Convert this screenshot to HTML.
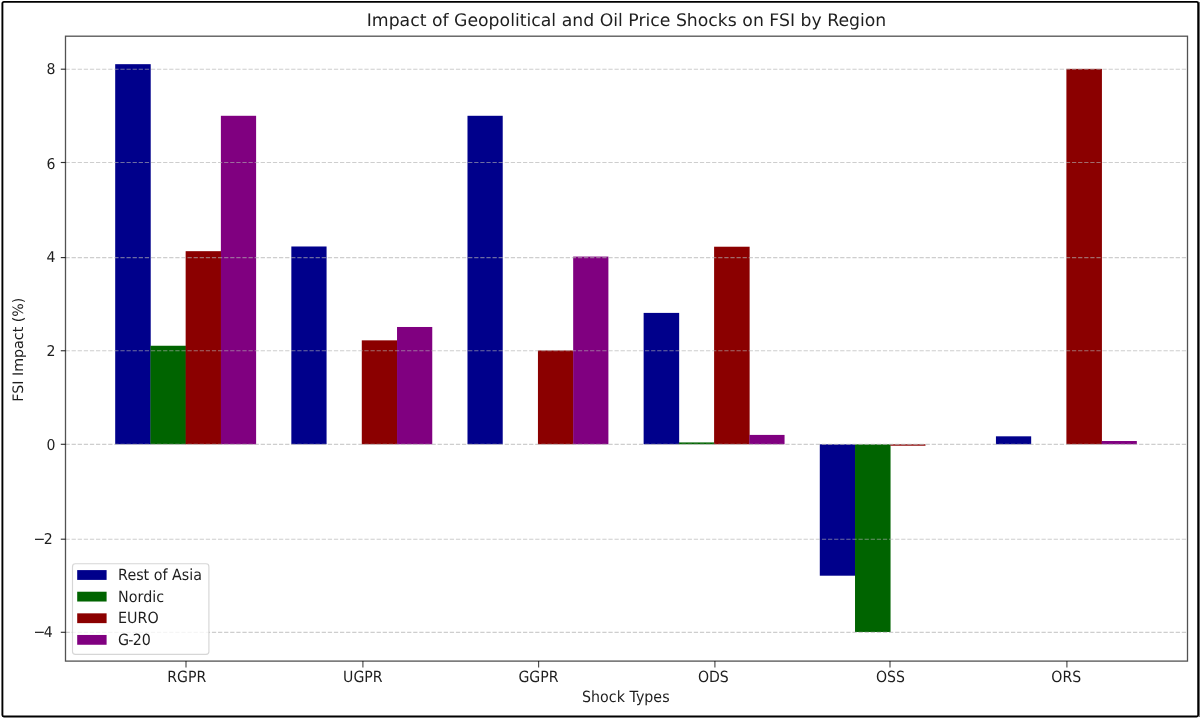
<!DOCTYPE html>
<html lang="en"><head><meta charset="utf-8"><title>Impact of Geopolitical and Oil Price Shocks on FSI by Region</title>
<style>html,body{margin:0;padding:0;background:#fff;}body{width:1200px;height:719px;overflow:hidden;}svg{display:block;}</style>
</head><body>
<svg width="1200" height="719" viewBox="0 0 1200 719" font-family="'DejaVu Sans','Liberation Sans',sans-serif" fill="#1e1e1e" text-rendering="geometricPrecision">
<rect x="0" y="0" width="1200" height="719" fill="#fff"/>
<g>
<rect x="1199" y="2" width="1" height="715" fill="#808080"/>
<rect x="2.4" y="1.9" width="1195.80" height="714.60" rx="1.5" ry="1.5" fill="none" stroke="#000" stroke-width="1.9"/>
<rect x="115.19" y="64.17" width="35.53" height="380.13" fill="#00008b"/>
<rect x="291.34" y="246.49" width="35.23" height="197.81" fill="#00008b"/>
<rect x="467.49" y="115.79" width="35.23" height="328.51" fill="#00008b"/>
<rect x="643.63" y="312.90" width="35.53" height="131.40" fill="#00008b"/>
<rect x="819.79" y="444.30" width="35.53" height="131.40" fill="#00008b"/>
<rect x="995.94" y="436.32" width="35.23" height="7.98" fill="#00008b"/>
<rect x="150.42" y="345.75" width="35.53" height="98.55" fill="#006400"/>
<rect x="678.87" y="442.42" width="35.53" height="1.88" fill="#006400"/>
<rect x="855.02" y="444.30" width="35.53" height="187.72" fill="#006400"/>
<rect x="185.65" y="251.18" width="35.53" height="193.12" fill="#8b0000"/>
<rect x="361.79" y="340.35" width="35.53" height="103.95" fill="#8b0000"/>
<rect x="537.94" y="350.44" width="35.53" height="93.86" fill="#8b0000"/>
<rect x="714.10" y="246.72" width="35.53" height="197.58" fill="#8b0000"/>
<rect x="890.25" y="444.30" width="35.23" height="1.41" fill="#8b0000"/>
<rect x="1066.40" y="68.86" width="35.53" height="375.44" fill="#8b0000"/>
<rect x="220.88" y="115.79" width="35.23" height="328.51" fill="#800080"/>
<rect x="397.03" y="326.98" width="35.23" height="117.32" fill="#800080"/>
<rect x="573.17" y="256.58" width="35.23" height="187.72" fill="#800080"/>
<rect x="749.33" y="434.91" width="35.23" height="9.39" fill="#800080"/>
<rect x="1101.62" y="441.01" width="35.23" height="3.29" fill="#800080"/>
<line x1="65.5" x2="1187.5" y1="632.30" y2="632.30" stroke="#b0b0b0" stroke-opacity="0.62" stroke-width="1.15" stroke-dasharray="4.26 1.84"/>
<line x1="65.5" x2="1187.5" y1="539.20" y2="539.20" stroke="#b0b0b0" stroke-opacity="0.62" stroke-width="1.15" stroke-dasharray="4.26 1.84"/>
<line x1="65.5" x2="1187.5" y1="444.30" y2="444.30" stroke="#b0b0b0" stroke-opacity="0.62" stroke-width="1.15" stroke-dasharray="4.26 1.84"/>
<line x1="65.5" x2="1187.5" y1="350.75" y2="350.75" stroke="#b0b0b0" stroke-opacity="0.62" stroke-width="1.15" stroke-dasharray="4.26 1.84"/>
<line x1="65.5" x2="1187.5" y1="257.60" y2="257.60" stroke="#b0b0b0" stroke-opacity="0.62" stroke-width="1.15" stroke-dasharray="4.26 1.84"/>
<line x1="65.5" x2="1187.5" y1="162.50" y2="162.50" stroke="#b0b0b0" stroke-opacity="0.62" stroke-width="1.15" stroke-dasharray="4.26 1.84"/>
<line x1="65.5" x2="1187.5" y1="69.20" y2="69.20" stroke="#b0b0b0" stroke-opacity="0.62" stroke-width="1.15" stroke-dasharray="4.26 1.84"/>
<line x1="60.80" x2="65.5" y1="632.30" y2="632.30" stroke="#000" stroke-opacity="0.8" stroke-width="1.15"/>
<text transform="translate(52.60 637.30) scale(0.946 1)" font-size="14.9" text-anchor="end">−<tspan dx="-1.9">4</tspan></text>
<line x1="60.80" x2="65.5" y1="539.20" y2="539.20" stroke="#000" stroke-opacity="0.8" stroke-width="1.15"/>
<text transform="translate(52.60 544.30) scale(0.946 1)" font-size="14.9" text-anchor="end">−<tspan dx="-1.9">2</tspan></text>
<line x1="60.80" x2="65.5" y1="444.30" y2="444.30" stroke="#000" stroke-opacity="0.8" stroke-width="1.15"/>
<text transform="translate(55.50 450.30) scale(0.946 1)" font-size="14.9" text-anchor="end">0</text>
<line x1="60.80" x2="65.5" y1="350.75" y2="350.75" stroke="#000" stroke-opacity="0.8" stroke-width="1.15"/>
<text transform="translate(55.50 355.80) scale(0.946 1)" font-size="14.9" text-anchor="end">2</text>
<line x1="60.80" x2="65.5" y1="257.60" y2="257.60" stroke="#000" stroke-opacity="0.8" stroke-width="1.15"/>
<text transform="translate(55.50 261.80) scale(0.946 1)" font-size="14.9" text-anchor="end">4</text>
<line x1="60.80" x2="65.5" y1="162.50" y2="162.50" stroke="#000" stroke-opacity="0.8" stroke-width="1.15"/>
<text transform="translate(55.50 168.70) scale(0.946 1)" font-size="14.9" text-anchor="end">6</text>
<line x1="60.80" x2="65.5" y1="69.20" y2="69.20" stroke="#000" stroke-opacity="0.8" stroke-width="1.15"/>
<text transform="translate(55.50 73.80) scale(0.946 1)" font-size="14.9" text-anchor="end">8</text>
<line x1="186.00" x2="186.00" y1="661.1" y2="667.50" stroke="#000" stroke-opacity="0.7" stroke-width="1.15"/>
<text transform="translate(186.80 682.30) scale(0.915 1)" font-size="15.4" text-anchor="middle">RGPR</text>
<line x1="362.90" x2="362.90" y1="661.1" y2="667.50" stroke="#000" stroke-opacity="0.7" stroke-width="1.15"/>
<text transform="translate(362.85 682.30) scale(0.915 1)" font-size="15.4" text-anchor="middle">UGPR</text>
<line x1="538.60" x2="538.60" y1="661.1" y2="667.50" stroke="#000" stroke-opacity="0.7" stroke-width="1.15"/>
<text transform="translate(538.50 682.30) scale(0.915 1)" font-size="15.4" text-anchor="middle">GGPR</text>
<line x1="714.90" x2="714.90" y1="661.1" y2="667.50" stroke="#000" stroke-opacity="0.7" stroke-width="1.15"/>
<text transform="translate(713.35 682.30) scale(0.915 1)" font-size="15.4" text-anchor="middle">ODS</text>
<line x1="890.00" x2="890.00" y1="661.1" y2="667.50" stroke="#000" stroke-opacity="0.7" stroke-width="1.15"/>
<text transform="translate(890.45 682.30) scale(0.915 1)" font-size="15.4" text-anchor="middle">OSS</text>
<line x1="1066.90" x2="1066.90" y1="661.1" y2="667.50" stroke="#000" stroke-opacity="0.7" stroke-width="1.15"/>
<text transform="translate(1066.25 682.30) scale(0.915 1)" font-size="15.4" text-anchor="middle">ORS</text>
<rect x="65.5" y="36.2" width="1122.0" height="624.9" fill="none" stroke="#000" stroke-opacity="0.68" stroke-width="1.3"/>
<text x="626.50" y="26.05" font-size="17.28" text-anchor="middle">Impact of Geopolitical and Oil Price Shocks on FSI by Region</text>
<text transform="translate(625.80 702.20) scale(0.925 1)" font-size="15.4" text-anchor="middle">Shock Types</text>
<text transform="translate(22.75 349.65) rotate(-90) scale(0.988 1)" font-size="14.4" text-anchor="middle">FSI Impact (%)</text>
<rect x="72.5" y="563.75" width="136.4" height="90.6" rx="2.9" ry="2.9" fill="#fff" fill-opacity="0.8" stroke="#ccc" stroke-opacity="0.8" stroke-width="1.15"/>
<rect x="77.2" y="570.10" width="29.4" height="9.8" fill="#00008b"/>
<text transform="translate(118.10 580.10) scale(0.928 1)" font-size="15.4" text-anchor="start">Rest of Asia</text>
<rect x="77.2" y="591.72" width="29.4" height="9.8" fill="#006400"/>
<text transform="translate(118.10 601.72) scale(0.928 1)" font-size="15.4" text-anchor="start">Nordic</text>
<rect x="77.2" y="613.34" width="29.4" height="9.8" fill="#8b0000"/>
<text transform="translate(118.10 623.34) scale(0.928 1)" font-size="15.4" text-anchor="start">EURO</text>
<rect x="77.2" y="634.96" width="29.4" height="9.8" fill="#800080"/>
<text transform="translate(118.10 644.96) scale(0.928 1)" font-size="15.4" text-anchor="start">G<tspan dx="-0.9">-</tspan><tspan dx="-0.9">20</tspan></text>
</g>
</svg>
</body></html>
